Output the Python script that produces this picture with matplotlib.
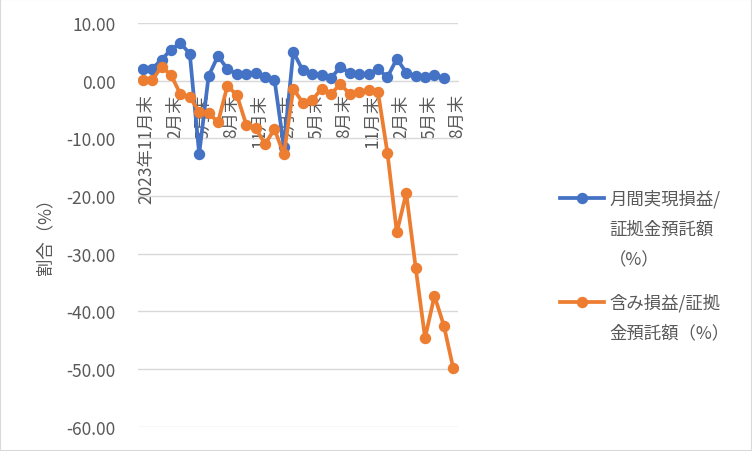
import numpy as np
import pandas as pd
import matplotlib
matplotlib.use("Agg")
import matplotlib.pyplot as plt
import matplotlib.transforms as mtransforms
from matplotlib.lines import Line2D
from matplotlib.patches import Rectangle
from matplotlib.ticker import FuncFormatter

plt.rcParams['font.family'] = ['Noto Sans CJK JP', 'DejaVu Sans']
plt.rcParams['axes.unicode_minus'] = False

# month-end categories, 2023/11 .. 2026/08
months = pd.period_range('2023-11', '2026-08', freq='M')

# 月間実現損益/証拠金預託額 (%)
realized = [2.0, 2.1, 3.6, 5.4, 6.5, 4.7, -12.7, 0.8, 4.3, 2.0, 1.2, 1.2, 1.4,
            0.6, 0.2, -11.5, 5.0, 1.8, 1.2, 1.0, 0.5, 2.3, 1.4, 1.2, 1.2, 2.0,
            0.6, 3.8, 1.4, 0.8, 0.6, 0.9, 0.4]
# 含み損益/証拠金預託額 (%)
unrealized = [0.1, 0.1, 2.4, 1.0, -2.3, -2.8, -5.4, -5.6, -7.2, -0.9, -2.5,
              -7.6, -8.2, -11.0, -8.4, -12.8, -1.4, -3.8, -3.4, -1.4, -2.3,
              -0.6, -2.3, -1.9, -1.6, -2.0, -12.5, -26.3, -19.5, -32.4, -44.6,
              -37.3, -42.5, -49.9]

series_names = ["月間実現損益/\n証拠金預託額\n（%）", "含み損益/証拠\n金預託額（%）"]
colors = ['#4472C4', '#ED7D31']
y_ticks = np.arange(-60, 11, 10)
y_title = "割合（%）"

tick_idx = list(range(0, len(months), 3))
tick_labels = []
for i in tick_idx:
    m = months[i]
    if i == 0:
        tick_labels.append(f"{m.year}年{m.month}月末")
    else:
        tick_labels.append(f"{m.month}月末")

W, H = 752, 452
fig = plt.figure(figsize=(W / 100, H / 100), dpi=100)
ax = fig.add_axes([138 / W, 1 - 427.7 / H, 320 / W, 403.7 / H])

grey = '#595959'
grid_c = '#d9d9d9'
lw, ms = 2.7, 7.2

ax.plot(np.arange(len(realized)), realized, color=colors[0], lw=lw,
        marker='o', ms=ms, zorder=3)
ax.plot(np.arange(len(unrealized)), unrealized, color=colors[1], lw=lw,
        marker='o', ms=ms, zorder=4)

ax.set_xlim(-0.5, len(months) - 0.5)
ax.set_ylim(-60, 10)
ax.set_yticks(y_ticks)
ax.yaxis.set_major_formatter(FuncFormatter(lambda v, p: f"{v:.2f}"))
ax.grid(axis='y', color=grid_c, lw=1)
ax.set_axisbelow(True)

for s in ['top', 'right', 'left']:
    ax.spines[s].set_visible(False)
ax.spines['bottom'].set_position(('data', 0))
ax.spines['bottom'].set_color(grid_c)

ax.set_xticks(tick_idx)
ax.set_xticklabels(tick_labels, rotation=90, ha='center', va='top')
ax.tick_params(axis='x', length=0, pad=9, labelsize=12.5, colors=grey)
ax.tick_params(axis='y', length=0, pad=16, labelsize=12.5, colors=grey)
shift = mtransforms.ScaledTranslation(4 / 100, 0, fig.dpi_scale_trans)
for lbl in ax.get_xticklabels():
    lbl.set_transform(lbl.get_transform() + shift)

ax.set_ylabel(y_title, fontsize=12.5, color=grey, va='center')
ax.yaxis.set_label_coords((45 - 138) / 320, (427.7 - 232) / 403.7)

# legend on the right, handle level with the first text line
def px(x, y):
    return x / W, 1 - y / H

leg_rows = [199, 303]
for name, c, y0 in zip(series_names, colors, leg_rows):
    xs = [px(560, y0)[0], px(582, y0)[0], px(604, y0)[0]]
    ys = [px(0, y0)[1]] * 3
    fig.add_artist(Line2D(xs, ys, color=c, lw=lw, marker='o', ms=ms,
                          markevery=[1], transform=fig.transFigure))
    for k, line in enumerate(name.split("\n")):
        fig.text(*px(609, y0 + 30.5 * k), line, fontsize=12.5, color=grey,
                 ha='left', va='center')

fig.add_artist(Rectangle((0, 0), 1, 1, transform=fig.transFigure,
                         fill=False, edgecolor=grid_c, lw=1.5))

fig.savefig("out.png", dpi=100)
